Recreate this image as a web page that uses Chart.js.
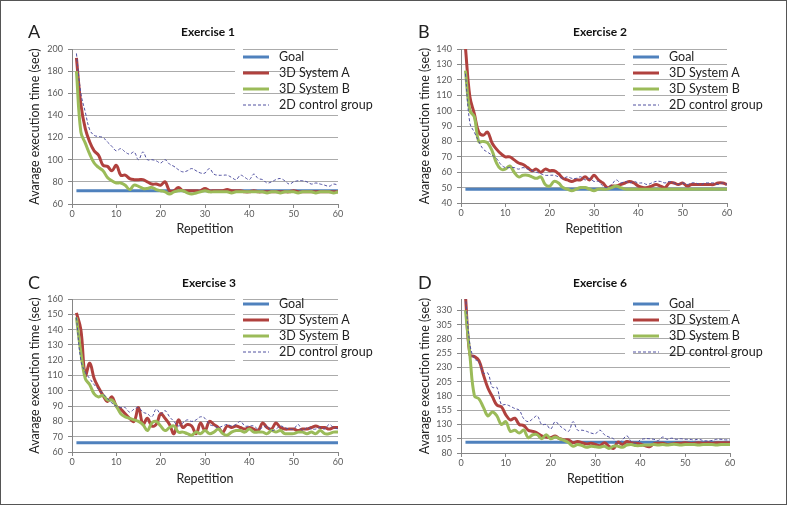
<!DOCTYPE html>
<html>
<head>
<meta charset="utf-8">
<script src="https://cdn.jsdelivr.net/npm/chart.js@4.4.0/dist/chart.umd.min.js"></script>
<style>
  body { margin: 0; background: #fff; font-family: Lato, "Open Sans", sans-serif; }
  #frame { position: absolute; left: 0; top: 0; width: 785px; height: 503px; border: 1px solid #555; }
  .panel { position: absolute; width: 390px; height: 252px; }
  .panel canvas { position: absolute; left: 0; top: 0; }
  .letter { position: absolute; font-size: 18px; color: #222; line-height: 1; }
  .title { position: absolute; font-weight: bold; font-size: 12px; color: #111; transform: translate(-50%, -50%); white-space: nowrap; }
  .legend { position: absolute; background: #fff; padding: 0 4px 2px 4px; }
  .row { position: relative; height: 16px; font-size: 12.5px; color: #222; white-space: nowrap; }
  .row svg { position: absolute; left: 4px; top: 6px; }
  .row span { position: absolute; left: 40px; top: 0; line-height: 16px; }
</style>
</head>
<body>
<div id="frame"></div>
<div class="panel" id="panelA" style="left:0;top:0"><canvas id="chartA" width="390" height="250"></canvas></div>
<div class="panel" id="panelB" style="left:390px;top:0"><canvas id="chartB" width="390" height="250"></canvas></div>
<div class="panel" id="panelC" style="left:0;top:250px"><canvas id="chartC" width="390" height="250"></canvas></div>
<div class="panel" id="panelD" style="left:390px;top:250px"><canvas id="chartD" width="390" height="250"></canvas></div>
<script>
// repetitions 1..60 on the x axis
const reps = Array.from({ length: 60 }, (_, i) => i + 1);
const xTicks = [0, 10, 20, 30, 40, 50, 60];
const seriesNames = ["Goal", "3D System A", "3D System B", "2D control group"];

// Exercise 1
const ex1Ticks = [60, 80, 100, 120, 140, 160, 180, 200];
const ex1Goal = 72;
const ex1SystemA = [192,150,128,116,108,104,95,94,90,95, 86,86,83,82,82,82,80,78,78,77,
  80,72,72,75,72,72,72,72,72,74, 72,72,72,72,73,72,72,72,71,71,
  72,71,71,71,71,71,71,71,71,72, 71,71,71,71,71,71,71,71,71,71];
const ex1SystemB = [180,125,115,105,97,93,90,84,81,79, 79,77,73,77,76,74,74,75,73,72,
  71,69,71,72,72,70,69,70,71,72, 71,71,71,71,71,70,71,71,71,71,
  71,71,71,70,71,71,70,71,71,71, 70,71,71,71,70,71,71,71,70,71];
const ex1Control = [196,160,143,127,122,121,120,116,112,108, 110,107,105,107,100,107,100,100,99,97,
  100,96,94,91,89,90,92,90,88,88, 92,87,86,86,86,84,82,86,84,82,
  87,83,82,79,80,82,83,81,78,80, 81,81,80,78,79,78,77,76,78,77];

// Exercise 2
const ex2Ticks = [40, 50, 60, 70, 80, 90, 100, 110, 120, 130, 140];
const ex2Goal = 49;
const ex2SystemA = [141,109,98,86,84,86,79,75,72,70, 70,68,66,65,63,61,62,60,62,61,
  61,59,56,55,54,55,55,57,55,58, 55,53,50,51,51,52,53,54,53,51,
  50,50,51,52,51,50,53,53,52,53, 51,52,52,52,52,52,52,53,53,52];
const ex2SystemB = [126,100,96,80,80,79,74,66,62,62, 64,60,57,58,58,57,56,57,52,51,
  54,53,50,49,48,49,50,50,49,48, 49,49,49,50,51,50,49,49,49,49,
  49,49,49,49,49,49,49,49,49,49, 49,49,49,49,49,49,49,49,49,49];
const ex2Control = [124,92,86,80,75,73,71,69,65,63, 63,63,62,63,62,61,60,59,58,58,
  58,57,56,57,56,56,57,55,56,54, 54,51,50,52,55,53,54,53,54,53,
  53,52,53,54,54,53,54,53,52,53, 52,53,53,52,53,53,53,52,53,52];

// Exercise 3
const ex3Ticks = [60, 70, 80, 90, 100, 110, 120, 130, 140, 150, 160];
const ex3Goal = 66;
const ex3SystemA = [151,140,110,118,108,102,97,93,96,90, 88,85,82,80,89,78,82,77,78,85,
  82,78,72,81,76,78,77,72,79,74, 80,78,76,73,77,76,77,76,75,76,
  75,74,79,76,75,79,76,75,75,75, 74,75,75,76,77,76,76,75,76,76];
const ex3SystemB = [148,125,108,104,98,96,97,94,94,90, 85,83,82,81,80,78,74,79,80,77,
  74,76,77,73,73,72,71,73,72,74, 72,73,75,72,71,73,74,74,73,75,
  73,73,73,72,74,73,74,72,72,72, 73,73,72,73,72,74,72,72,73,73];
const ex3Control = [148,120,112,108,104,101,98,95,92,90, 89,89,86,88,89,86,85,83,88,85,
  87,83,80,77,79,81,80,81,83,82, 78,77,76,77,78,77,78,80,77,77,
  77,75,76,77,74,75,77,76,75,75, 78,74,76,75,75,76,75,78,76,75];

// Exercise 6
const ex6Ticks = [80, 105, 130, 155, 180, 205, 230, 255, 280, 305, 330];
const ex6Goal = 99;
const ex6SystemA = [355,252,249,242,217,194,179,164,161,147, 138,141,130,128,120,118,115,110,108,107,
  110,105,103,103,98,100,98,96,97,95, 93,98,92,88,99,95,100,98,97,96,
  93,91,96,97,97,95,96,97,97,98, 97,97,98,97,98,97,98,98,98,98];
const ex6SystemB = [330,250,180,175,160,145,152,145,130,135, 118,120,115,120,107,112,112,105,112,105,
  108,105,102,98,92,95,93,90,92,91, 90,92,88,92,92,90,94,95,93,93,
  94,94,95,94,95,94,95,95,94,95, 95,95,94,95,95,95,94,95,95,95];
const ex6Control = [355,270,245,240,220,220,195,195,165,165, 162,158,155,140,135,140,145,130,130,122,
  135,128,122,118,135,120,120,118,115,114, 120,112,108,105,97,103,110,100,97,103,
  105,105,104,102,108,104,106,104,105,104, 104,103,104,102,101,102,104,104,103,103];

const lineColors = ["#4F81BD", "#B0413E", "#9BBB59", "#5050A0"];
const axisGray = "#868686";
const gridGray = "#ABABAB";
const tickText = "#595959";

const panels = [
  { id: "A", title: "Exercise 1", goal: ex1Goal, a: ex1SystemA, b: ex1SystemB, c: ex1Control,
    yMin: 60, yMax: 200, yTicks: ex1Ticks, area: [72, 49, 338, 204], titleX: 208, titleY: 31, legendTop: 49 },
  { id: "B", title: "Exercise 2", goal: ex2Goal, a: ex2SystemA, b: ex2SystemB, c: ex2Control,
    yMin: 40, yMax: 140, yTicks: ex2Ticks, area: [71, 49, 337, 203], titleX: 210, titleY: 31, legendTop: 49 },
  { id: "C", title: "Exercise 3", goal: ex3Goal, a: ex3SystemA, b: ex3SystemB, c: ex3Control,
    yMin: 60, yMax: 160, yTicks: ex3Ticks, area: [72, 49, 338, 202], titleX: 209, titleY: 32, legendTop: 46 },
  { id: "D", title: "Exercise 6", goal: ex6Goal, a: ex6SystemA, b: ex6SystemB, c: ex6Control,
    yMin: 80, yMax: 350, yTicks: ex6Ticks, area: [71, 49, 340, 203], titleX: 210, titleY: 32, legendTop: 46 }
];

function makeLegend(panel, p, datasets) {
  const box = document.createElement("div");
  box.className = "legend";
  box.style.left = "235px";
  box.style.top = p.legendTop + "px";
  datasets.forEach(ds => {
    const row = document.createElement("div");
    row.className = "row";
    const dash = ds.borderDash ? 'stroke-dasharray="3,2"' : "";
    row.innerHTML = `<svg width="26" height="4"><line x1="0" y1="2" x2="26" y2="2" stroke="${ds.borderColor}"
      stroke-width="${ds.borderWidth}" ${dash}/></svg><span>${ds.label}</span>`;
    box.appendChild(row);
  });
  panel.appendChild(box);
}

function buildPanel(p) {
  const panel = document.getElementById("panel" + p.id);
  const canvas = document.getElementById("chart" + p.id);
  const [l, t, r, b] = p.area;
  const padLeft = 27, padBottom = 14;

  const letter = document.createElement("div");
  letter.className = "letter";
  letter.style.left = "28px";
  letter.style.top = (p.titleY - 9) + "px";
  letter.textContent = p.id;
  panel.appendChild(letter);

  const title = document.createElement("div");
  title.className = "title";
  title.style.left = p.titleX + "px";
  title.style.top = p.titleY + "px";
  title.textContent = p.title;
  panel.appendChild(title);

  const values = [reps.map(() => p.goal), p.a, p.b, p.c];
  const datasets = values.map((vals, i) => ({
    label: seriesNames[i],
    data: vals.map((v, k) => ({ x: reps[k], y: v })),
    borderColor: lineColors[i],
    borderWidth: i === 3 ? 1 : 3,
    borderDash: i === 3 ? [3, 2] : undefined,
    tension: i === 0 ? 0 : 0.4,
    pointRadius: 0,
    fill: false,
    order: 4 - i
  }));

  new Chart(canvas, {
    type: "line",
    data: { datasets },
    options: {
      responsive: false,
      animation: false,
      devicePixelRatio: 1,
      layout: { padding: { left: padLeft, top: t, right: canvas.width - r, bottom: padBottom } },
      plugins: { legend: { display: false }, tooltip: { enabled: false } },
      scales: {
        x: {
          type: "linear", min: 0, max: 60,
          ticks: { padding: 1, color: tickText, font: { family: "Lato", size: 9 } },
          grid: { drawOnChartArea: false, tickLength: 4, tickColor: axisGray },
          border: { color: axisGray },
          title: { display: true, text: "Repetition", color: "#222", padding: 0, font: { family: "Lato", size: 12.5 } },
          afterBuildTicks: s => { s.ticks = xTicks.map(v => ({ value: v })); },
          afterFit: s => { s.height = canvas.height - padBottom - b; }
        },
        y: {
          min: p.yMin, max: p.yMax,
          ticks: { padding: 5, color: tickText, font: { family: "Lato", size: 9 } },
          grid: { display: true, drawOnChartArea: true, color: gridGray, lineWidth: 1, tickLength: 4, tickColor: axisGray },
          border: { color: axisGray },
          title: { display: true, text: "Avarage execution time (sec)", color: "#222", padding: 0, font: { family: "Lato", size: 12.5 } },
          afterBuildTicks: s => { s.ticks = p.yTicks.map(v => ({ value: v })); },
          afterFit: s => { s.width = l - padLeft; }
        }
      }
    }
  });

  makeLegend(panel, p, datasets);
}

panels.forEach(buildPanel);
</script>
</body>
</html>
